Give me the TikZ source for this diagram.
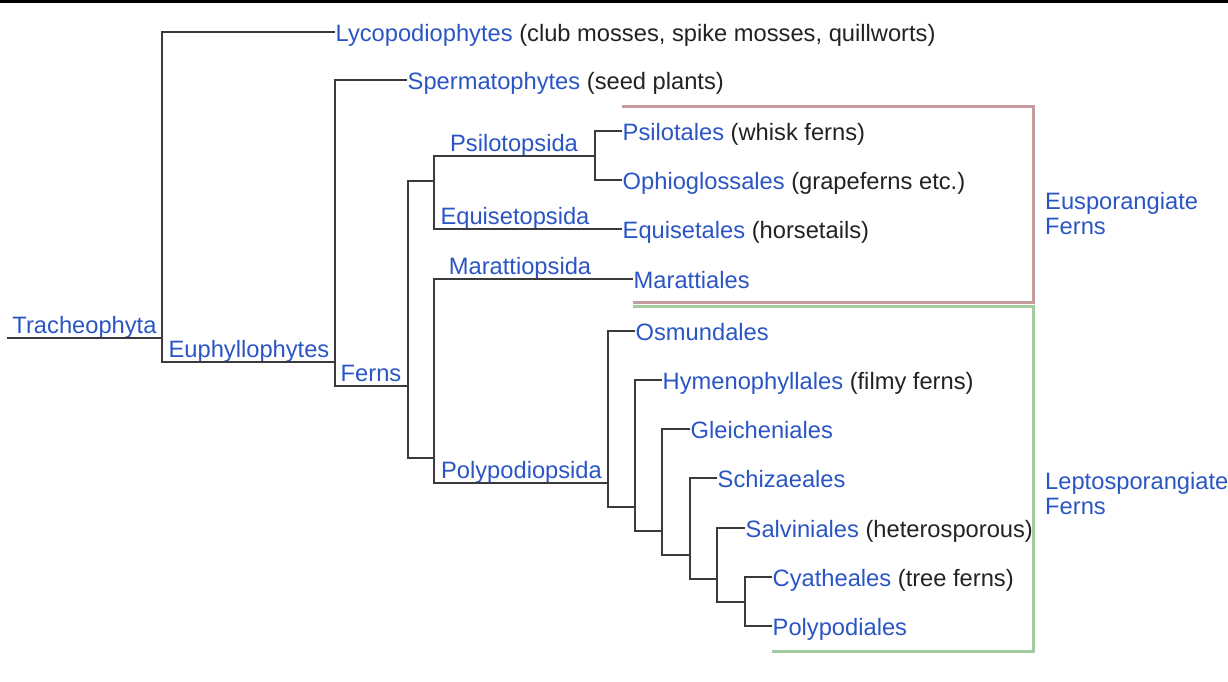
\documentclass[tikz,border=0pt]{standalone}
\usepackage{fontspec}
\setmainfont{Liberation Sans}
\usetikzlibrary{positioning}
\definecolor{taxblue}{HTML}{2A55C4}
\definecolor{notegray}{HTML}{222222}
\definecolor{treegray}{HTML}{3A3A3A}
\definecolor{euspink}{HTML}{C69C9C}
\definecolor{leptgreen}{HTML}{A0CCA0}
\newcommand{\common}[1]{\textcolor{notegray}{#1}}

\begin{document}
\begin{tikzpicture}[x=1pt, y=-1pt,
    every node/.style={font=\fontsize{23.7}{25}\selectfont, text=taxblue},
    leaf/.style={anchor=west, inner xsep=0.5pt, inner ysep=0pt, text height=18pt, text depth=0pt},
    clade/.style={anchor=base, inner sep=0pt},
    branch/.style={draw=treegray, line width=1.4pt},
    group/.style={anchor=north west, align=left, inner sep=0pt},
    frame/.style={line width=3pt}
]
\useasboundingbox (0,0) rectangle (1228,681);
\fill (0,0) rectangle (1228,2.5);

% Group frames
\draw[frame, euspink] (622,106) -| (1033,302) -- (633,302);
\draw[frame, leptgreen] (633,306) -| (1033,651) -- (772,651);

% Branch points
\coordinate (root) at (7,338);
\coordinate (trach) at (162,338);
\coordinate (euphy) at (335,362);
\coordinate (ferns) at (408,386);
\coordinate (eusp) at (434,181);
\coordinate (psilo) at (595,156);
\coordinate (lept) at (434,458);
\coordinate (polypsida) at (608,483);
\coordinate (c1) at (635,507);
\coordinate (c2) at (662,531);
\coordinate (c3) at (690,555);
\coordinate (c4) at (717,579);
\coordinate (c5) at (745,602);

% Leaves
\node[leaf] (lyco) at (335,32) {Lycopodiophytes \common{(club mosses, spike mosses, quillworts)}};
\node[leaf] (sperm) at (407,80) {Spermatophytes \common{(seed plants)}};
\node[leaf] (psilotales) at (622,131) {Psilotales \common{(whisk ferns)}};
\node[leaf] (ophio) at (622,180) {Ophioglossales \common{(grapeferns etc.)}};
\node[leaf] (equis) at (622,229) {Equisetales \common{(horsetails)}};
\node[leaf] (maratt) at (633,279) {Marattiales};
\node[leaf] (osmu) at (635,331) {Osmundales};
\node[leaf] (hymen) at (662,380) {Hymenophyllales \common{(filmy ferns)}};
\node[leaf] (gleich) at (690,429) {Gleicheniales};
\node[leaf] (schiz) at (717,478) {Schizaeales};
\node[leaf] (salv) at (745,528) {Salviniales \common{(heterosporous)}};
\node[leaf] (cyath) at (772,577) {Cyatheales \common{(tree ferns)}};
\node[leaf] (polyd) at (772,626) {Polypodiales};

% Clade labels
\node[clade] (tracheo) at (84.5,333) {Tracheophyta};
\node[clade] (euphyl) at (249,357) {Euphyllophytes};
\node[clade] (fernsl) at (371,381) {Ferns};
\node[clade] (psilotl) at (514,151) {Psilotopsida};
\node[clade] (equisl) at (515,224) {Equisetopsida};
\node[clade] (marattl) at (520,274) {Marattiopsida};
\node[clade] (polypl) at (521.5,478) {Polypodiopsida};

% Branches
\draw[branch] (root) -- (trach);
\draw[branch] (trach) |- (lyco.west);
\draw[branch] (trach) |- (euphy);
\draw[branch] (euphy) |- (sperm.west);
\draw[branch] (euphy) |- (ferns);
\draw[branch] (ferns) |- (eusp);
\draw[branch] (ferns) |- (lept);
\draw[branch] (eusp) |- (psilo);
\draw[branch] (eusp) |- (equis.west);
\draw[branch] (psilo) |- (psilotales.west);
\draw[branch] (psilo) |- (ophio.west);
\draw[branch] (lept) |- (maratt.west);
\draw[branch] (lept) |- (polypsida);
\draw[branch] (polypsida) |- (osmu.west);
\draw[branch] (polypsida) |- (c1);
\draw[branch] (c1) |- (hymen.west);
\draw[branch] (c1) |- (c2);
\draw[branch] (c2) |- (gleich.west);
\draw[branch] (c2) |- (c3);
\draw[branch] (c3) |- (schiz.west);
\draw[branch] (c3) |- (c4);
\draw[branch] (c4) |- (salv.west);
\draw[branch] (c4) |- (c5);
\draw[branch] (c5) |- (cyath.west);
\draw[branch] (c5) |- (polyd.west);

% Group labels
\node[group] (euspl) at (1045,192) {Eusporangiate\\Ferns};
\node[group] (leptl) at (1045,472) {Leptosporangiate\\Ferns};
\end{tikzpicture}
\end{document}
